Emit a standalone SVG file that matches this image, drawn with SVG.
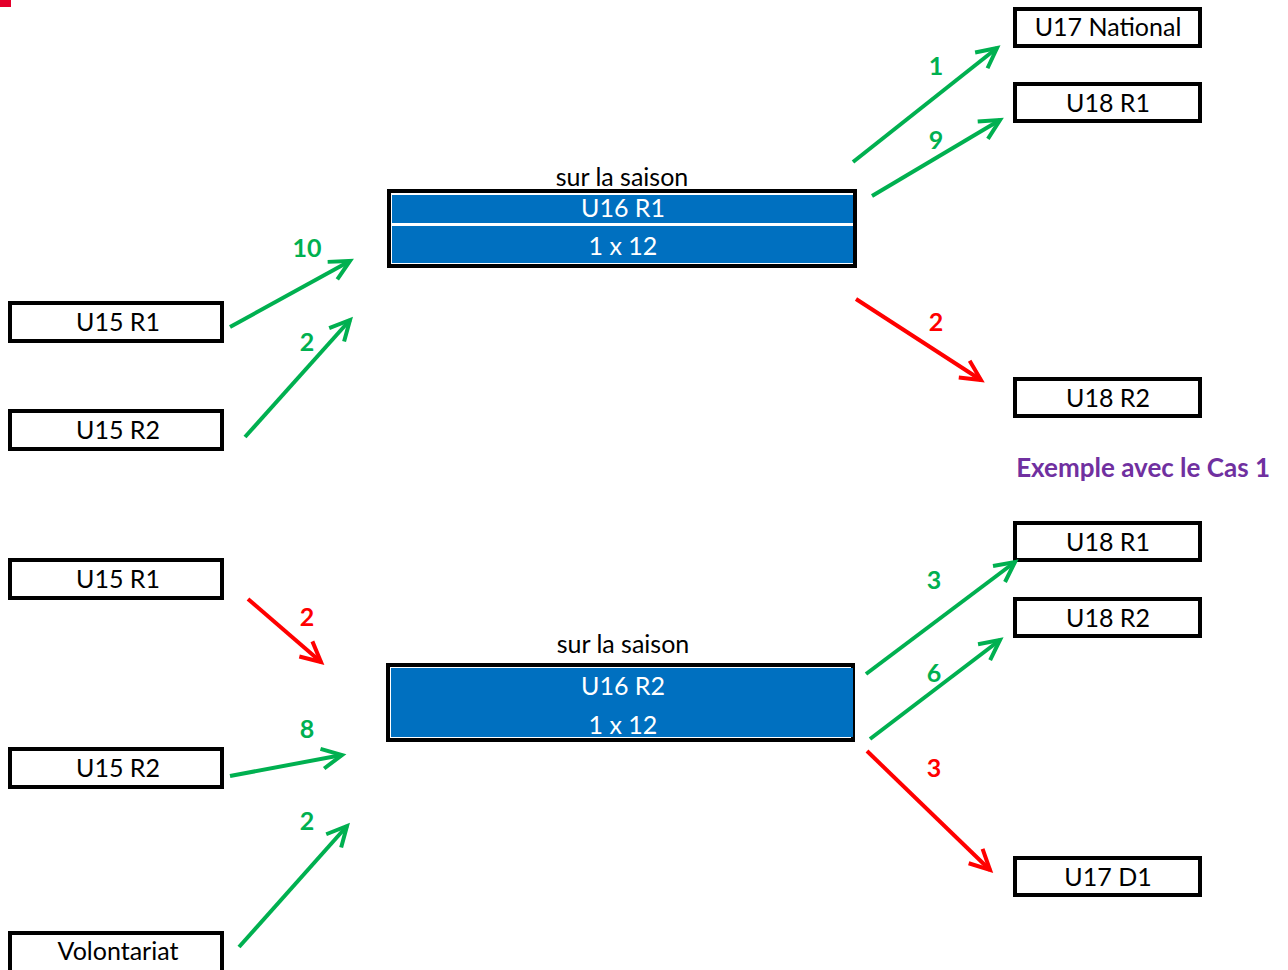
<svg xmlns="http://www.w3.org/2000/svg" width="1288" height="970" viewBox="0 0 1288 970">
<style>
.box{fill:#fff;stroke:#000;stroke-width:4}
.bt{font-family:Lato,"Open Sans",sans-serif;font-size:25px;fill:#000;text-anchor:middle}
.wt{font-family:Lato,"Open Sans",sans-serif;font-size:25px;fill:#fff;text-anchor:middle}
.g{stroke:#00B050;stroke-width:4;fill:none;marker-end:url(#ag)}
.r{stroke:#FF0000;stroke-width:4;fill:none;marker-end:url(#ar)}
.lg{font-family:Lato,"Open Sans",sans-serif;font-size:25px;font-weight:bold;fill:#00B050;text-anchor:middle}
.lr{font-family:Lato,"Open Sans",sans-serif;font-size:25px;font-weight:bold;fill:#FF0000;text-anchor:middle}
</style>
<defs>
<marker id="ag" markerUnits="userSpaceOnUse" markerWidth="30" markerHeight="30" refX="0" refY="0" orient="auto" overflow="visible"><path d="M-20,-10 L0,0 L-20,10" fill="none" stroke="#00B050" stroke-width="4"/></marker>
<marker id="ar" markerUnits="userSpaceOnUse" markerWidth="30" markerHeight="30" refX="0" refY="0" orient="auto" overflow="visible"><path d="M-20,-10 L0,0 L-20,10" fill="none" stroke="#FF0000" stroke-width="4"/></marker>
</defs>
<rect x="0" y="0" width="11" height="7" fill="#E4002B"/>

<g id="u16r1">
<text class="bt" x="622" y="186">sur la saison</text>
<rect x="389" y="191" width="466" height="75" fill="#fff" stroke="#000" stroke-width="4"/>
<rect x="392" y="195" width="461" height="28" fill="#0070C0"/>
<rect x="392" y="226" width="461" height="37" fill="#0070C0"/>
<text class="wt" x="623" y="217">U16 R1</text>
<text class="wt" x="623" y="255">1 x 12</text>
</g>

<g id="u16r2">
<text class="bt" x="623" y="653">sur la saison</text>
<rect x="388" y="665" width="465" height="75" fill="#fff" stroke="#000" stroke-width="4"/>
<rect x="391" y="668" width="462" height="69" fill="#0070C0"/>
<text class="wt" x="623" y="695">U16 R2</text>
<text class="wt" x="623" y="734">1 x 12</text>
</g>

<g id="u17nat"><rect class="box" x="1015" y="9" width="185" height="37"/><text class="bt" x="1108" y="36">U17 National</text></g>
<g id="u18r1a"><rect class="box" x="1015" y="84" width="185" height="37"/><text class="bt" x="1108" y="112">U18 R1</text></g>
<g id="u18r2a"><rect class="box" x="1015" y="379" width="185" height="37"/><text class="bt" x="1108" y="407">U18 R2</text></g>
<g id="u18r1b"><rect class="box" x="1015" y="523" width="185" height="37"/><text class="bt" x="1108" y="551">U18 R1</text></g>
<g id="u18r2b"><rect class="box" x="1015" y="599" width="185" height="37"/><text class="bt" x="1108" y="627">U18 R2</text></g>
<g id="u17d1"><rect class="box" x="1015" y="858" width="185" height="37"/><text class="bt" x="1108" y="886">U17 D1</text></g>

<g id="u15r1a"><rect class="box" x="10" y="303" width="212" height="38"/><text class="bt" x="118" y="331">U15 R1</text></g>
<g id="u15r2a"><rect class="box" x="10" y="411" width="212" height="38"/><text class="bt" x="118" y="439">U15 R2</text></g>
<g id="u15r1b"><rect class="box" x="10" y="560" width="212" height="38"/><text class="bt" x="118" y="588">U15 R1</text></g>
<g id="u15r2b"><rect class="box" x="10" y="749" width="212" height="38"/><text class="bt" x="118" y="777">U15 R2</text></g>
<g id="volontariat"><rect class="box" x="10" y="933" width="212" height="40"/><text class="bt" x="118" y="960">Volontariat</text></g>

<text id="title" x="1270" y="477" text-anchor="end" font-family="Lato,'Open Sans',sans-serif" font-size="26" font-weight="bold" fill="#7030A0">Exemple avec le Cas 1</text>

<g id="connectors">
<line class="g" x1="230" y1="327" x2="350" y2="261"/>
<line class="g" x1="245" y1="437" x2="350" y2="320"/>
<line class="g" x1="853" y1="162" x2="997" y2="48"/>
<line class="g" x1="872" y1="196" x2="1000" y2="120"/>
<line class="r" x1="856" y1="299" x2="981" y2="380"/>
<line class="r" x1="248" y1="599" x2="321" y2="662"/>
<line class="g" x1="230" y1="776" x2="342" y2="755"/>
<line class="g" x1="239" y1="947" x2="347" y2="826"/>
<line class="g" x1="866" y1="674" x2="1015" y2="562"/>
<line class="g" x1="870" y1="739" x2="1000" y2="640"/>
<line class="r" x1="867" y1="751" x2="990" y2="870"/>
</g>

<g id="labels">
<text class="lg" x="307" y="257">10</text>
<text class="lg" x="307" y="351">2</text>
<text class="lg" x="936" y="75">1</text>
<text class="lg" x="936" y="149">9</text>
<text class="lr" x="936" y="331">2</text>
<text class="lr" x="307" y="626">2</text>
<text class="lg" x="307" y="738">8</text>
<text class="lg" x="307" y="830">2</text>
<text class="lg" x="934" y="589">3</text>
<text class="lg" x="934" y="682">6</text>
<text class="lr" x="934" y="777">3</text>
</g>
</svg>
